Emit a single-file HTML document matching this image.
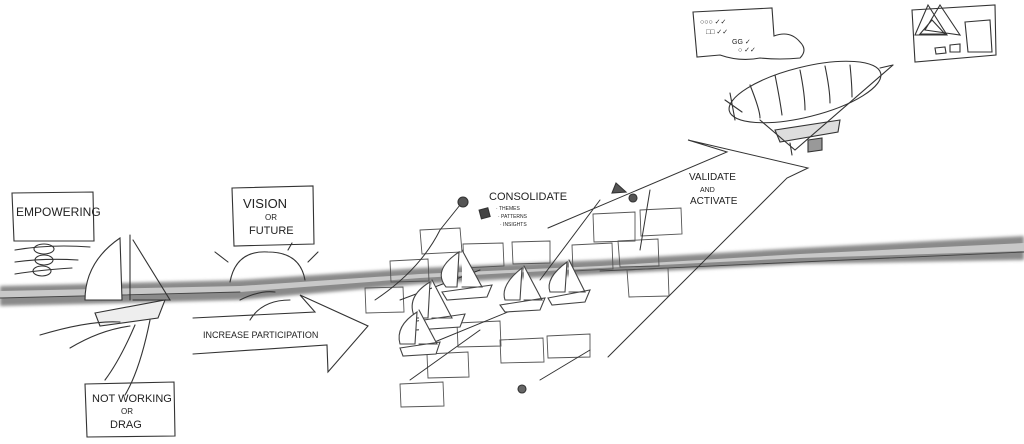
<!DOCTYPE html>
<html><head><meta charset="utf-8"><style>
html,body{margin:0;padding:0;background:#fff;}
svg{display:block;}
text{font-family:"Liberation Sans",sans-serif;fill:#222;}
</style></head><body>
<svg width="1024" height="444" viewBox="0 0 1024 444" xmlns="http://www.w3.org/2000/svg" fill="none" stroke="#333" stroke-width="1.1" stroke-linecap="round">
<defs><filter id="b"><feGaussianBlur stdDeviation="1.5"/></filter></defs>
<!-- water band -->
<path d="M0 286 L240 280 L420 268 L600 260 L800 248 L1024 236 L1024 260 L800 264 L600 274 L420 284 L240 300 L0 306 Z" fill="#8a8a8a" stroke="none" filter="url(#b)"/>
<path d="M0 291 L240 286 L420 274 L600 266 L800 254 L1024 243 L1024 251 L800 258 L600 268 L420 278 L240 292 L0 298 Z" fill="#c8c8c8" stroke="none"/>
<path d="M0 298 L240 292 M600 271 L1024 252" stroke="#444" stroke-width="0.9"/>
<!-- empowering -->
<path d="M12 193 L93 192 L94 241 L14 241 Z"/>
<text x="16" y="216" font-size="12" stroke="none">EMPOWERING</text>
<path d="M15 250 Q50 244 90 247 M15 262 Q45 258 78 260 M15 274 Q40 270 72 268" />
<ellipse cx="44" cy="249" rx="10" ry="5"/><ellipse cx="44" cy="260" rx="9" ry="5"/><ellipse cx="42" cy="271" rx="9" ry="5"/>
<!-- left sailboat -->
<path d="M120 238 L122 300 L85 300 Q85 262 120 238 Z" fill="#fff"/>
<path d="M130 235 L130 300 M133 240 L170 300 L133 300"/>
<path d="M95 313 L165 300 L158 318 L100 326 Z" fill="#eee"/>
<path d="M40 335 Q90 320 120 322 M70 348 Q100 330 130 326 M150 320 Q140 370 125 395 M135 325 Q120 360 105 380"/>
<!-- not working -->
<path d="M85 384 L174 382 L175 436 L87 437 Z"/>
<text x="92" y="402" font-size="11" stroke="none">NOT WORKING</text>
<text x="121" y="414" font-size="8" stroke="none">OR</text>
<text x="110" y="428" font-size="11" stroke="none">DRAG</text>
<!-- vision -->
<path d="M232 188 L313 186 L314 244 L234 246 Z"/>
<text x="243" y="208" font-size="13" stroke="none">VISION</text>
<text x="265" y="220" font-size="8" stroke="none">OR</text>
<text x="249" y="234" font-size="11" stroke="none">FUTURE</text>
<path d="M230 282 Q236 250 268 252 Q300 252 305 280"/>
<path d="M215 252 L228 262 M292 243 L288 250 M318 252 L308 262 M240 300 Q260 290 275 292 M250 320 Q262 300 290 300"/>
<!-- increase participation arrow -->
<path d="M193 318 L315 312 L300 295 L368 326 L328 372 L327 345 L193 354"/>
<text x="203" y="338" font-size="9" stroke="none">INCREASE  PARTICIPATION</text>
<!-- middle boxes -->
<g stroke="#555" stroke-width="0.9">
<path d="M365 288 L403 287 L404 312 L366 313 Z"/>
<path d="M390 261 L428 259 L429 281 L391 282 Z"/>
<path d="M420 230 L460 228 L462 252 L422 254 Z"/>
<path d="M463 244 L503 243 L504 266 L464 268 Z"/>
<path d="M512 242 L550 241 L550 263 L513 264 Z"/>
<path d="M572 245 L612 243 L613 269 L573 271 Z"/>
<path d="M593 214 L635 212 L635 241 L594 242 Z"/>
<path d="M640 210 L681 208 L682 234 L641 236 Z"/>
<path d="M618 241 L658 239 L659 266 L620 267 Z"/>
<path d="M627 270 L668 268 L669 296 L629 297 Z"/>
<path d="M457 323 L500 321 L501 346 L458 347 Z"/>
<path d="M500 340 L543 338 L544 362 L501 363 Z"/>
<path d="M547 336 L590 334 L590 357 L548 358 Z"/>
<path d="M427 354 L468 352 L469 377 L428 378 Z"/>
<path d="M400 384 L443 382 L444 406 L401 407 Z"/>
</g>
<path d="M410 380 L480 330 M420 348 L520 307 M540 280 L600 200 M640 250 L650 190 M375 300 Q420 270 440 230 L460 205 M400 300 L480 270 M590 350 L540 380 M548 228 L727 152 L688 140 L808 168 L787 178 L608 357" stroke-width="1"/>
<circle cx="463" cy="202" r="5" fill="#555"/>
<rect x="480" y="209" width="9" height="9" fill="#444" transform="rotate(-15 484 213)"/>
<path d="M616 183 L626 192 L612 193 Z" fill="#555"/>
<circle cx="633" cy="198" r="4" fill="#555"/>
<circle cx="522" cy="389" r="4" fill="#666"/>
<!-- small sailboats -->
<g stroke="#444">
<path d="M457 287 L459 252 Q432 270 446 287 Z M462 250 L482 287 L462 287 M442 292 L492 285 L487 297 L447 300 Z" fill="#fff"/>
<path d="M428 318 L430 282 Q405 297 415 318 Z M432 280 L452 318 L432 318 M410 322 L465 314 L460 327 L415 330 Z" fill="#fff"/>
<path d="M520 300 L522 268 Q500 285 505 300 Z M524 266 L542 300 L524 300 M500 305 L545 298 L540 310 L505 312 Z" fill="#fff"/>
<path d="M565 292 L567 262 Q545 278 550 292 Z M569 260 L585 292 L569 292 M548 298 L590 290 L585 302 L552 305 Z" fill="#fff"/>
<path d="M415 344 L417 312 Q395 326 400 344 Z M419 310 L437 344 L419 344 M400 348 L440 342 L436 354 L403 356 Z" fill="#fff"/>
</g>
<text x="489" y="200" font-size="11" stroke="none">CONSOLIDATE</text>
<text x="496" y="210" font-size="5" stroke="none">· THEMES</text>
<text x="498" y="218" font-size="5" stroke="none">· PATTERNS</text>
<text x="500" y="226" font-size="5" stroke="none">· INSIGHTS</text>
<text x="689" y="180" font-size="10" stroke="none">VALIDATE</text>
<text x="700" y="192" font-size="7" stroke="none">AND</text>
<text x="690" y="204" font-size="10" stroke="none">ACTIVATE</text>
<!-- airship -->
<ellipse cx="805" cy="92" rx="78" ry="25" transform="rotate(-14 805 92)" fill="#fff"/>
<path d="M750 85 Q760 110 760 118 M775 75 Q780 100 782 115 M800 70 Q805 95 805 110 M825 66 Q830 90 830 103 M850 65 Q852 85 852 97"/>
<path d="M730 93 L735 120 M725 100 L742 112 M880 68 L893 65"/>
<path d="M775 130 L840 120 L838 132 L780 142 Z" fill="#ddd"/>
<path d="M808 140 L822 138 L822 150 L808 152 Z" fill="#999"/>
<path d="M790 143 L792 155 M760 120 L795 150 L893 65"/>
<!-- cloud box -->
<path d="M693 12 L772 8 L774 36 Q790 30 800 42 Q808 50 800 58 Q780 60 760 58 Q740 62 720 55 L697 57 Z" fill="#fff"/>
<text x="700" y="24" font-size="7" stroke="none">○○○ ✓✓</text>
<text x="706" y="34" font-size="7" stroke="none">□□ ✓✓</text>
<text x="732" y="44" font-size="7" stroke="none">GG ✓</text>
<text x="738" y="52" font-size="7" stroke="none">○ ✓✓</text>
<!-- triangles box -->
<path d="M912 10 L995 5 L996 55 L915 62 Z"/>
<path d="M915 35 L928 5 L947 35 Z M925 30 L940 5 L960 35 Z M920 34 L932 20 L945 34 Z M965 22 L990 20 L992 52 L968 52 Z M935 48 L945 47 L946 53 L936 54 Z M950 45 L960 44 L960 52 L950 52 Z"/>
</svg>
</body></html>
